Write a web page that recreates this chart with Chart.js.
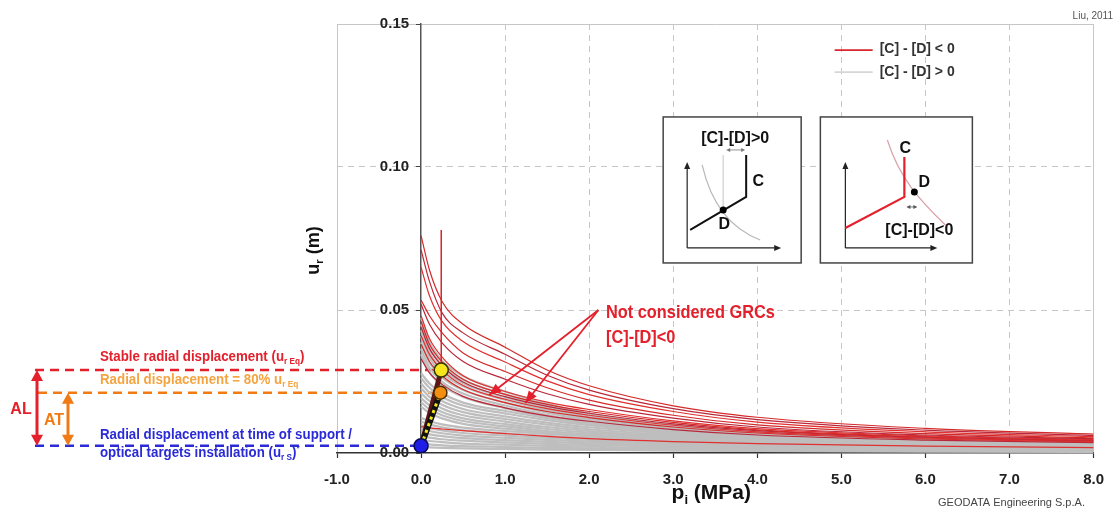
<!DOCTYPE html>
<html>
<head>
<meta charset="utf-8">
<script src="https://cdn.jsdelivr.net/npm/chart.js@4.4.1/dist/chart.umd.min.js"></script>
<style>
  html, body { margin: 0; padding: 0; background: #fff; }
  #wrap { width: 1117px; height: 508px; }
</style>
</head>
<body>
<div id="wrap"><canvas id="grc" width="1117" height="508"></canvas></div>
<script>
// internal support pressure sample points (MPa)
const pressure = [0, 0.1, 0.25, 0.5, 1, 1.5, 2, 3, 4, 6, 8];

// ground reaction curves with [C]-[D] > 0, radial displacement in m
const grcPositive = [
  [0.0473, 0.0387, 0.0323, 0.0269, 0.0215, 0.0172, 0.0138, 0.0097, 0.0073, 0.0052, 0.0041],
  [0.0451, 0.0369, 0.0308, 0.0256, 0.0205, 0.0164, 0.0131, 0.0092, 0.0070, 0.0049, 0.0039],
  [0.0429, 0.0351, 0.0293, 0.0244, 0.0195, 0.0156, 0.0125, 0.0088, 0.0066, 0.0047, 0.0037],
  [0.0409, 0.0335, 0.0279, 0.0233, 0.0186, 0.0149, 0.0119, 0.0084, 0.0063, 0.0045, 0.0035],
  [0.0387, 0.0317, 0.0264, 0.0220, 0.0176, 0.0141, 0.0113, 0.0079, 0.0060, 0.0042, 0.0033],
  [0.0365, 0.0299, 0.0249, 0.0208, 0.0166, 0.0133, 0.0106, 0.0075, 0.0056, 0.0040, 0.0032],
  [0.0345, 0.0283, 0.0236, 0.0196, 0.0157, 0.0126, 0.0100, 0.0071, 0.0053, 0.0038, 0.0030],
  [0.0279, 0.0243, 0.0209, 0.0176, 0.0147, 0.0122, 0.0103, 0.0076, 0.0060, 0.0044, 0.0035],
  [0.0262, 0.0228, 0.0196, 0.0166, 0.0138, 0.0115, 0.0097, 0.0072, 0.0057, 0.0041, 0.0033],
  [0.0243, 0.0211, 0.0182, 0.0154, 0.0128, 0.0106, 0.0090, 0.0067, 0.0052, 0.0038, 0.0031],
  [0.0226, 0.0196, 0.0169, 0.0143, 0.0119, 0.0099, 0.0083, 0.0062, 0.0049, 0.0036, 0.0029],
  [0.0209, 0.0182, 0.0156, 0.0132, 0.0110, 0.0091, 0.0077, 0.0057, 0.0045, 0.0033, 0.0026],
  [0.0192, 0.0167, 0.0143, 0.0121, 0.0101, 0.0084, 0.0071, 0.0053, 0.0041, 0.0030, 0.0024],
  [0.0177, 0.0153, 0.0132, 0.0112, 0.0093, 0.0077, 0.0065, 0.0048, 0.0038, 0.0028, 0.0022],
  [0.0162, 0.0140, 0.0121, 0.0102, 0.0085, 0.0071, 0.0060, 0.0044, 0.0035, 0.0026, 0.0020],
  [0.0123, 0.0112, 0.0100, 0.0089, 0.0077, 0.0067, 0.0059, 0.0046, 0.0039, 0.0029, 0.0024],
  [0.0110, 0.0100, 0.0090, 0.0079, 0.0069, 0.0060, 0.0052, 0.0041, 0.0035, 0.0026, 0.0021],
  [0.0098, 0.0088, 0.0079, 0.0070, 0.0061, 0.0053, 0.0046, 0.0037, 0.0031, 0.0023, 0.0019],
  [0.0085, 0.0077, 0.0069, 0.0061, 0.0053, 0.0046, 0.0040, 0.0032, 0.0027, 0.0020, 0.0016],
  [0.0072, 0.0065, 0.0059, 0.0052, 0.0045, 0.0039, 0.0034, 0.0027, 0.0023, 0.0017, 0.0014],
  [0.0059, 0.0054, 0.0048, 0.0043, 0.0037, 0.0032, 0.0028, 0.0022, 0.0019, 0.0014, 0.0011],
  [0.0046, 0.0042, 0.0038, 0.0033, 0.0029, 0.0025, 0.0022, 0.0017, 0.0015, 0.0011, 0.0009],
  [0.0034, 0.0030, 0.0027, 0.0024, 0.0021, 0.0018, 0.0016, 0.0013, 0.0011, 0.0008, 0.0007],
  [0.0022, 0.0020, 0.0018, 0.0016, 0.0014, 0.0012, 0.0011, 0.0008, 0.0007, 0.0005, 0.0004]
];

// ground reaction curves with [C]-[D] < 0 (not considered)
const grcNegative = [
  [0.0760, 0.0640, 0.0530, 0.0450, 0.0370, 0.0290, 0.0235, 0.0165, 0.0125, 0.0086, 0.0066],
  [0.0710, 0.0600, 0.0490, 0.0420, 0.0345, 0.0272, 0.0220, 0.0155, 0.0117, 0.0080, 0.0061],
  [0.0650, 0.0550, 0.0460, 0.0390, 0.0318, 0.0252, 0.0204, 0.0145, 0.0108, 0.0074, 0.0057],
  [0.0535, 0.0480, 0.0420, 0.0350, 0.0285, 0.0228, 0.0185, 0.0132, 0.0098, 0.0068, 0.0053],
  [0.0520, 0.0450, 0.0385, 0.0320, 0.0258, 0.0207, 0.0170, 0.0122, 0.0091, 0.0063, 0.0050],
  [0.0480, 0.0400, 0.0335, 0.0270, 0.0215, 0.0178, 0.0152, 0.0112, 0.0085, 0.0060, 0.0047],
  [0.0460, 0.0380, 0.0318, 0.0258, 0.0205, 0.0170, 0.0145, 0.0107, 0.0081, 0.0057, 0.0045],
  [0.0440, 0.0365, 0.0305, 0.0248, 0.0197, 0.0163, 0.0139, 0.0102, 0.0078, 0.0055, 0.0043],
  [0.0410, 0.0345, 0.0290, 0.0236, 0.0188, 0.0155, 0.0132, 0.0097, 0.0074, 0.0052, 0.0041],
  [0.0380, 0.0320, 0.0270, 0.0222, 0.0176, 0.0145, 0.0124, 0.0091, 0.0070, 0.0049, 0.0039],
  [0.0330, 0.0280, 0.0240, 0.0198, 0.0158, 0.0130, 0.0111, 0.0082, 0.0063, 0.0045, 0.0036],
  [0.0092, 0.0088, 0.0084, 0.0078, 0.0068, 0.0058, 0.0050, 0.0040, 0.0033, 0.0024, 0.0019]
];

// installation (u_rS), 80 % and equilibrium (u_rEq) points on the support line
const markerP = [0.00, 0.23, 0.24];
const markerU = [0.0025, 0.0211, 0.0290];

// vertical branch of the support characteristic
const yieldP = [0.24, 0.24];
const yieldU = [0.0290, 0.0780];

const xTicks = [-1, 0, 1, 2, 3, 4, 5, 6, 7, 8];
const yTicks = [0, 0.05, 0.10, 0.15];

const FONT = "'Liberation Sans', Arial, sans-serif";
const RED = '#e3202b';
const ORANGE = '#f07a14';
const BLUE = '#2a2ad6';

const toPoints = (xs, ys) => xs.map((x, i) => ({ x: x, y: ys[i] }));

const datasets = [];

datasets.push({
  label: 'markers',
  data: toPoints(markerP, markerU),
  showLine: false,
  pointRadius: [7, 6.5, 7],
  pointBackgroundColor: ['#1e1ee6', '#f28e10', '#f6e61e'],
  pointBorderColor: ['#0a0a50', '#4a3000', '#3a3600'],
  pointBorderWidth: 1.5,
  order: 0
});
datasets.push({
  label: 'support dots',
  data: toPoints(markerP.slice(0, 2), markerU.slice(0, 2)),
  borderColor: '#f6e61e',
  borderWidth: 3,
  borderDash: [3, 4],
  order: 1
});
datasets.push({
  label: 'support 80%',
  data: toPoints(markerP.slice(0, 2), markerU.slice(0, 2)),
  borderColor: '#111',
  borderWidth: 6,
  order: 2
});
datasets.push({
  label: 'support eq',
  data: toPoints([markerP[0], markerP[2]], [markerU[0], markerU[2]]),
  borderColor: '#5a1616',
  borderWidth: 5,
  order: 3
});
datasets.push({
  label: 'yield',
  data: toPoints(yieldP, yieldU),
  borderColor: '#d9242c',
  borderWidth: 1.5,
  order: 4
});

const redShades = ['#d42a2a', '#b8283a', '#e03030'];
grcNegative.forEach((u, i) => {
  datasets.push({
    label: '[C] - [D] < 0',
    data: toPoints(pressure, u),
    borderColor: redShades[i % redShades.length],
    borderWidth: 1.2,
    order: 5
  });
});
grcPositive.forEach(u => {
  datasets.push({
    label: '[C] - [D] > 0',
    data: toPoints(pressure, u),
    borderColor: '#bebebe',
    borderWidth: 2.2,
    order: 6
  });
});

function setFont(ctx, size, weight) {
  ctx.font = (weight || 'bold') + ' ' + size + 'px ' + FONT;
}

// text made of normal / subscript / superscript runs
function richText(ctx, x, y, parts, size, color, opts) {
  opts = opts || {};
  ctx.save();
  ctx.translate(x, y);
  if (opts.rotate) ctx.rotate(opts.rotate);
  ctx.scale(opts.scaleX || 1, 1);
  ctx.fillStyle = color;
  ctx.textAlign = 'left';
  ctx.textBaseline = 'alphabetic';
  let total = 0;
  const segs = parts.map(p => {
    const t = Array.isArray(p) ? p[0] : p;
    const mode = Array.isArray(p) ? p[1] : 'n';
    const s = mode === 'n' ? size : size * 0.62;
    setFont(ctx, s, opts.weight);
    const w = ctx.measureText(t).width;
    total += w;
    return { t: t, mode: mode, s: s, w: w };
  });
  let cx = opts.align === 'center' ? -total / 2 : (opts.align === 'right' ? -total : 0);
  segs.forEach(seg => {
    setFont(ctx, seg.s, opts.weight);
    const dy = seg.mode === 'sub' ? size * 0.22 : (seg.mode === 'sup' ? -size * 0.4 : 0);
    ctx.fillText(seg.t, cx, dy);
    cx += seg.w;
  });
  ctx.restore();
}

function arrowHead(ctx, x1, y1, x2, y2, len, half, color) {
  const a = Math.atan2(y2 - y1, x2 - x1);
  const c = Math.cos(a), s = Math.sin(a);
  ctx.save();
  ctx.fillStyle = color;
  ctx.beginPath();
  ctx.moveTo(x2, y2);
  ctx.lineTo(x2 - len * c + half * s, y2 - len * s - half * c);
  ctx.lineTo(x2 - len * c - half * s, y2 - len * s + half * c);
  ctx.closePath();
  ctx.fill();
  ctx.restore();
}

function line(ctx, pts, color, width, dash) {
  ctx.save();
  ctx.strokeStyle = color;
  ctx.lineWidth = width;
  ctx.setLineDash(dash || []);
  ctx.beginPath();
  pts.forEach((p, i) => (i ? ctx.lineTo(p[0], p[1]) : ctx.moveTo(p[0], p[1])));
  ctx.stroke();
  ctx.restore();
}

function doubleArrow(ctx, x1, y1, x2, y2, color, width, len, half) {
  const a = Math.atan2(y2 - y1, x2 - x1);
  const c = Math.cos(a), s = Math.sin(a);
  line(ctx, [[x1 + c * len * 0.8, y1 + s * len * 0.8], [x2 - c * len * 0.8, y2 - s * len * 0.8]], color, width);
  arrowHead(ctx, x2, y2, x1, y1, len, half, color);
  arrowHead(ctx, x1, y1, x2, y2, len, half, color);
}

function dot(ctx, x, y, r, color) {
  ctx.save();
  ctx.fillStyle = color;
  ctx.beginPath();
  ctx.arc(x, y, r, 0, Math.PI * 2);
  ctx.fill();
  ctx.restore();
}

// small schematic boxes explaining the sign of [C]-[D]
const insets = [
  { x: 2.88, y: 0.1175, w: 138, h: 146, kind: 'pos' },
  { x: 4.75, y: 0.1175, w: 152, h: 146, kind: 'neg' }
];

function drawInset(ctx, L, T, w, h, kind) {
  ctx.save();
  ctx.fillStyle = '#fff';
  ctx.fillRect(L, T, w, h);
  ctx.strokeStyle = '#444';
  ctx.lineWidth = 1.5;
  ctx.strokeRect(L, T, w, h);
  const P = (x, y) => [L + x, T + y];
  const axis = (ox, oy, top, right) => {
    line(ctx, [P(ox, oy), P(ox, top + 6)], '#222', 1.2);
    line(ctx, [P(ox, oy), P(right - 6, oy)], '#222', 1.2);
    arrowHead(ctx, L + ox, T + oy, L + ox, T + top, 7, 3, '#222');
    arrowHead(ctx, L + ox, T + oy, L + right, T + oy, 7, 3, '#222');
  };
  if (kind === 'pos') {
    axis(24, 131, 45, 118);
    ctx.strokeStyle = '#b8b8b8';
    ctx.lineWidth = 1.2;
    ctx.beginPath();
    ctx.moveTo(L + 39, T + 48);
    ctx.bezierCurveTo(L + 47, T + 83, L + 65, T + 111, L + 97, T + 123);
    ctx.stroke();
    line(ctx, [P(60, 38), P(60, 93)], '#cfcfcf', 1.2);
    line(ctx, [P(27, 113), P(83, 80), P(83, 38)], '#111', 2);
    doubleArrow(ctx, L + 63, T + 33, L + 82, T + 33, '#777', 0.8, 4, 2);
    dot(ctx, L + 60, T + 93, 3.5, '#000');
    ctx.textAlign = 'center';
    ctx.fillStyle = '#111';
    setFont(ctx, 16);
    ctx.fillText('[C]-[D]>0', L + 72, T + 26);
    ctx.fillText('C', L + 95, T + 69);
    ctx.fillText('D', L + 61, T + 112);
  } else {
    axis(25, 131, 45, 117);
    ctx.strokeStyle = '#d9a0a8';
    ctx.lineWidth = 1.2;
    ctx.beginPath();
    ctx.moveTo(L + 67, T + 23);
    ctx.bezierCurveTo(L + 79, T + 61, L + 99, T + 83, L + 125, T + 108);
    ctx.stroke();
    line(ctx, [P(25, 111), P(84, 80), P(84, 40)], RED, 2.2);
    doubleArrow(ctx, L + 86, T + 90, L + 97, T + 90, '#555', 0.8, 4, 2);
    dot(ctx, L + 94, T + 75, 3.5, '#000');
    ctx.textAlign = 'center';
    ctx.fillStyle = '#111';
    setFont(ctx, 16);
    ctx.fillText('C', L + 85, T + 36);
    ctx.fillText('D', L + 104, T + 70);
    ctx.fillText('[C]-[D]<0', L + 99, T + 118);
  }
  ctx.restore();
}

// callout pointing at two of the excluded curves
const callout = { x: 2.2, y: 0.0472, apex: [2.11, 0.050], tips: [[0.81, 0.0203], [1.24, 0.0175]] };
const legendAt = { x: 4.92, y: 0.1409 };

const annotations = {
  id: 'grcAnnotations',
  beforeDatasetsDraw(chart) {
    const ctx = chart.ctx, xs = chart.scales.x, ys = chart.scales.y;
    const yS = ys.getPixelForValue(markerU[0]);
    const y80 = ys.getPixelForValue(markerU[1]);
    const yEq = ys.getPixelForValue(markerU[2]);
    line(ctx, [[35, yEq], [xs.getPixelForValue(markerP[2]), yEq]], RED, 2.5, [9, 6]);
    line(ctx, [[38, y80], [xs.getPixelForValue(markerP[1]), y80]], ORANGE, 2.5, [9, 6]);
    line(ctx, [[35, yS], [xs.getPixelForValue(markerP[0]), yS]], BLUE, 2.5, [9, 6]);
  },
  afterDatasetsDraw(chart) {
    const ctx = chart.ctx, xs = chart.scales.x, ys = chart.scales.y;
    const X = v => xs.getPixelForValue(v), Y = v => ys.getPixelForValue(v);
    const yS = Y(markerU[0]), y80 = Y(markerU[1]), yEq = Y(markerU[2]);

    // AL / AT spans
    doubleArrow(ctx, 37, yEq, 37, yS, RED, 3, 11, 6);
    doubleArrow(ctx, 68, y80, 68, yS, ORANGE, 3, 11, 6);
    richText(ctx, 21, (yEq + yS) / 2 + 6, ['AL'], 16, RED, { align: 'center' });
    richText(ctx, 54, (y80 + yS) / 2 + 6, ['AT'], 16, ORANGE, { align: 'center' });

    const cond = { scaleX: 0.95 };
    richText(ctx, 100, yEq - 9, ['Stable radial displacement (u', ['r Eq', 'sub'], ')'], 14, RED, cond);
    richText(ctx, 100, y80 - 9, ['Radial displacement = 80% u', ['r Eq', 'sub']], 14, '#f4a440', cond);
    richText(ctx, 100, yS - 7, ['Radial displacement at time of support /'], 14, BLUE, cond);
    richText(ctx, 100, yS + 11, ['optical targets installation (u', ['r S', 'sub'], ')', ['*', 'sup']], 14, BLUE, cond);

    // callout arrows and text
    const ax = X(callout.apex[0]), ay = Y(callout.apex[1]);
    callout.tips.forEach(t => {
      const tx = X(t[0]), ty = Y(t[1]);
      line(ctx, [[ax, ay], [tx, ty]], RED, 1.8);
      arrowHead(ctx, ax, ay, tx, ty, 12, 5, RED);
    });
    richText(ctx, X(callout.x), Y(callout.y), ['Not considered GRCs'], 19, RED, { scaleX: 0.86 });
    richText(ctx, X(callout.x), Y(callout.y) + 25, ['[C]-[D]<0'], 19, RED, { scaleX: 0.86 });

    // legend
    const lx = X(legendAt.x), ly = Y(legendAt.y);
    line(ctx, [[lx, ly], [lx + 38, ly]], '#d8262c', 1.8);
    line(ctx, [[lx, ly + 22], [lx + 38, ly + 22]], '#d6d6d6', 1.8);
    ctx.save();
    ctx.fillStyle = '#333';
    ctx.textBaseline = 'middle';
    setFont(ctx, 14);
    ctx.fillText('[C] - [D] < 0', lx + 45, ly - 1);
    ctx.fillText('[C] - [D] > 0', lx + 45, ly + 22);
    ctx.restore();

    insets.forEach(b => drawInset(ctx, X(b.x), Y(b.y), b.w, b.h, b.kind));
  },
  afterDraw(chart) {
    const ctx = chart.ctx, area = chart.chartArea;
    const xs = chart.scales.x, ys = chart.scales.y;

    // y tick labels sit left of the axis that crosses at p = 0
    ctx.save();
    setFont(ctx, 15);
    ctx.fillStyle = '#222';
    ctx.textAlign = 'right';
    ctx.textBaseline = 'middle';
    const axisX = xs.getPixelForValue(0);
    ys.ticks.forEach(t => ctx.fillText(t.value.toFixed(2), axisX - 12, ys.getPixelForValue(t.value)));
    ctx.restore();

    // axis titles
    richText(ctx, 319, (area.top + area.bottom) / 2 + 12, ['u', ['r', 'sub'], ' (m)'], 18, '#111',
      { rotate: -Math.PI / 2, align: 'center' });
    richText(ctx, (area.left + area.right) / 2 - 4, 499, ['p', ['i', 'sub'], ' (MPa)'], 21, '#111', { align: 'center' });
    ctx.save();
    ctx.fillStyle = '#555';
    setFont(ctx, 10, 'normal');
    ctx.textAlign = 'right';
    ctx.fillText('Liu, 2011', 1113, 19);
    ctx.fillStyle = '#444';
    setFont(ctx, 11, 'normal');
    ctx.textAlign = 'left';
    ctx.fillText('GEODATA Engineering S.p.A.', 938, 506);
    ctx.restore();
  }
};

const tickFont = { family: FONT, size: 15, weight: 'bold' };

new Chart(document.getElementById('grc'), {
  type: 'line',
  data: { datasets: datasets },
  plugins: [annotations],
  options: {
    responsive: false,
    animation: false,
    devicePixelRatio: 1,
    layout: { padding: { left: 337, right: 20, top: 24, bottom: 19 } },
    plugins: { legend: { display: false }, tooltip: { enabled: false } },
    elements: {
      point: { radius: 0 },
      line: { cubicInterpolationMode: 'monotone', fill: false }
    },
    scales: {
      x: {
        type: 'linear',
        min: -1,
        max: 8,
        afterBuildTicks: s => { s.ticks = xTicks.map(v => ({ value: v })); },
        afterFit: s => { s.height = 36; },
        ticks: {
          callback: v => v.toFixed(1),
          font: tickFont,
          color: '#222',
          padding: 13,
          maxRotation: 0,
          autoSkip: false
        },
        grid: {
          color: c => (c.tick && c.tick.value === 0 ? 'rgba(0,0,0,0)' : '#c6c6c6'),
          lineWidth: 1,
          tickColor: '#333',
          tickLength: 5,
          tickWidth: 1.2
        },
        border: {
          color: '#333',
          width: 1.5,
          dash: c => (c.tick && c.tick.value > -1 && c.tick.value < 8 ? [6, 5] : [])
        }
      },
      y: {
        type: 'linear',
        position: { x: 0 },
        min: 0,
        max: 0.15,
        afterBuildTicks: s => { s.ticks = yTicks.map(v => ({ value: v })); },
        ticks: { display: false },
        grid: {
          color: c => (c.tick && c.tick.value === 0 ? 'rgba(0,0,0,0)' : '#c6c6c6'),
          lineWidth: 1,
          tickColor: '#444',
          tickLength: 4
        },
        border: {
          color: '#555',
          width: 1.5,
          dash: c => (c.tick && c.tick.value > 0 && c.tick.value < 0.149 ? [6, 5] : [])
        }
      }
    }
  }
});
</script>
</body>
</html>
